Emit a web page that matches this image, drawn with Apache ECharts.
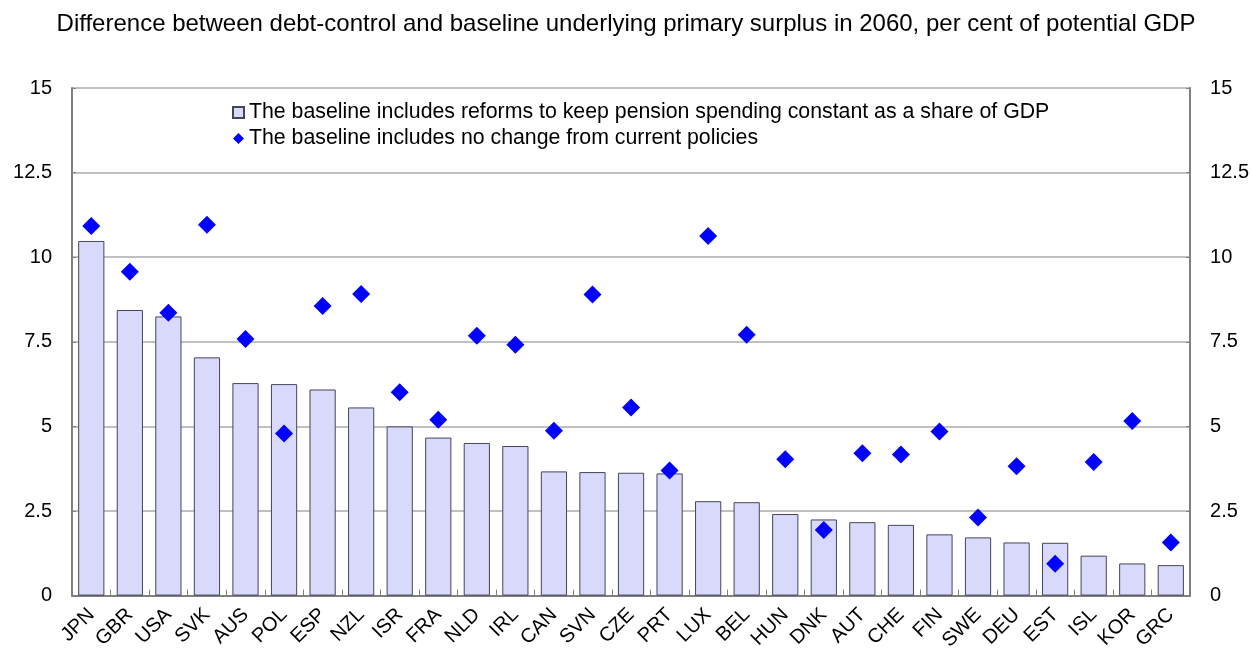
<!DOCTYPE html>
<html>
<head>
<meta charset="utf-8">
<script src="https://cdn.jsdelivr.net/npm/echarts@6/dist/echarts.min.js"></script>
<style>
html,body{margin:0;padding:0;background:#fff;}
#c{width:1252px;height:653px;}
</style>
</head>
<body>
<div id="c"></div>
<script>
const categories = ["JPN","GBR","USA","SVK","AUS","POL","ESP","NZL","ISR","FRA","NLD","IRL","CAN","SVN","CZE","PRT","LUX","BEL","HUN","DNK","AUT","CHE","FIN","SWE","DEU","EST","ISL","KOR","GRC"];
const reformValues = [10.48,8.44,8.25,7.04,6.28,6.25,6.09,5.56,5.00,4.67,4.51,4.42,3.67,3.65,3.63,3.61,2.79,2.76,2.41,2.25,2.17,2.09,1.81,1.72,1.57,1.56,1.18,0.95,0.90];
const noChangeValues = [10.92,9.57,8.36,10.96,7.58,4.79,8.56,8.91,6.01,5.20,7.68,7.41,4.87,8.90,5.56,3.70,10.63,7.71,4.03,1.94,4.21,4.17,4.85,2.31,3.82,0.94,3.95,5.16,1.57];
const yTicks = [0,2.5,5,7.5,10,12.5,15];
const titleText = "Difference between debt-control and baseline underlying primary surplus in 2060, per cent of potential GDP";
const seriesNames = ["The baseline includes reforms to keep pension spending constant as a share of GDP","The baseline includes no change from current policies"];

const font = "'Liberation Sans', Arial, sans-serif";
const chart = echarts.init(document.getElementById('c'), null, {renderer:'canvas'});
const yAxisBase = {
  type:'value', min:yTicks[0], max:yTicks[yTicks.length-1], interval:2.5,
  axisLine:{show:true, lineStyle:{color:'#808080', width:2}},
  axisTick:{show:true, inside:true, length:4, lineStyle:{color:'#808080', width:1}},
  axisLabel:{color:'#000', fontSize:20, fontFamily:font, margin:20},
};
chart.setOption({
  animation:false,
  backgroundColor:'#fff',
  title:{text:titleText, left:'center', top:7, textStyle:{fontFamily:font, fontSize:24, fontWeight:'normal', color:'#000'}},
  legend:{
    left:232, top:102, padding:0, orient:'vertical', itemGap:5, itemWidth:11, itemHeight:11,
    textStyle:{fontFamily:font, fontSize:21.3, color:'#000'},
    data:[{name:seriesNames[0], icon:'rect'},{name:seriesNames[1], icon:'diamond'}]
  },
  grid:{left:72, right:61, top:88, bottom:57, containLabel:false},
  xAxis:{
    type:'category', data:categories,
    axisLine:{show:true, lineStyle:{color:'#808080', width:2}},
    axisTick:{show:true, inside:true, length:6, alignWithLabel:false, lineStyle:{color:'#808080', width:1}},
    axisLabel:{rotate:45, color:'#000', fontSize:20, fontFamily:font, margin:16, interval:0},
  },
  yAxis:[
    Object.assign({}, yAxisBase, {position:'left', splitLine:{show:true, lineStyle:{color:'#c0c0c0', width:2}}}),
    Object.assign({}, yAxisBase, {position:'right', splitLine:{show:false}})
  ],
  series:[
    {name:seriesNames[0], type:'bar', data:reformValues, barCategoryGap:'32%',
     itemStyle:{color:'#d9d9fb', borderColor:'#45455a', borderWidth:1}},
    {name:seriesNames[1], type:'scatter', data:noChangeValues, symbol:'diamond', symbolSize:18,
     itemStyle:{color:'#0000ff', opacity:1}, z:5}
  ]
});
</script>
</body>
</html>
